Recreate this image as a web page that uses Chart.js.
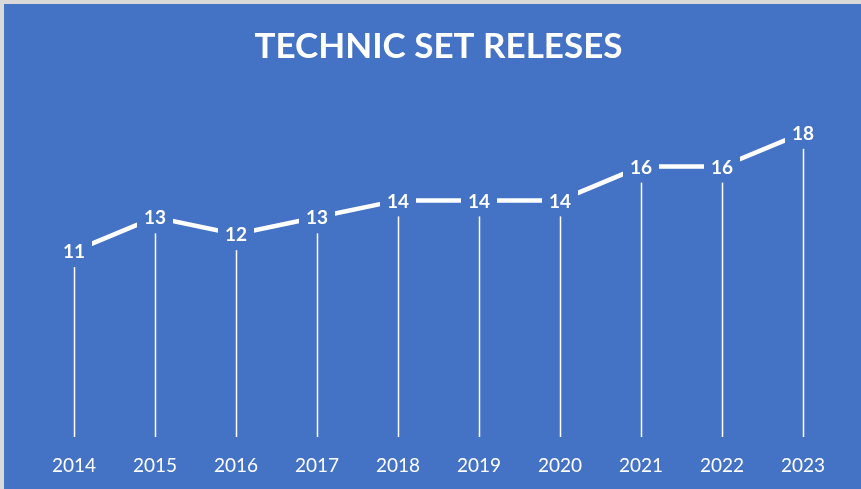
<!DOCTYPE html>
<html>
<head>
<meta charset="utf-8">
<script src="https://cdn.jsdelivr.net/npm/chart.js@4/dist/chart.umd.min.js"></script>
<style>
    html, body { margin: 0; padding: 0; background: #d9d9d9; }
    #wrap { position: absolute; left: 4px; top: 4px; width: 857px; height: 485px; background: #4472c4; }
</style>
</head>
<body>
<div id="wrap"><canvas id="chart" width="857" height="485"></canvas></div>
<script>
var years = ['2014', '2015', '2016', '2017', '2018', '2019', '2020', '2021', '2022', '2023'];
var releases = [11, 13, 12, 13, 14, 14, 14, 16, 16, 18];

var blue = '#4472c4';

// drop lines from each point down to the axis
var dropLines = {
    id: 'dropLines',
    beforeDatasetsDraw: function (chart) {
        var ctx = chart.ctx;
        var meta = chart.getDatasetMeta(0);
        var bottom = chart.scales.y.getPixelForValue(0);
        ctx.save();
        ctx.strokeStyle = '#ffffff';
        ctx.lineWidth = 1.5;
        meta.data.forEach(function (pt) {
            ctx.beginPath();
            ctx.moveTo(Math.round(pt.x) + 0.5, pt.y);
            ctx.lineTo(Math.round(pt.x) + 0.5, bottom);
            ctx.stroke();
        });
        ctx.restore();
    }
};

// value labels on a blue box, centred on the point
var valueLabels = {
    id: 'valueLabels',
    afterDatasetsDraw: function (chart) {
        var ctx = chart.ctx;
        var meta = chart.getDatasetMeta(0);
        ctx.save();
        ctx.font = 'bold 19px Lato';
        ctx.textAlign = 'center';
        ctx.textBaseline = 'middle';
        meta.data.forEach(function (pt, i) {
            var txt = String(releases[i]);
            var w = ctx.measureText(txt).width + 14;
            var h = 32;
            ctx.fillStyle = blue;
            ctx.fillRect(pt.x - w / 2, pt.y - h / 2, w, h);
            ctx.fillStyle = '#ffffff';
            ctx.fillText(txt, pt.x, pt.y + 1);
        });
        ctx.restore();
    }
};

new Chart(document.getElementById('chart'), {
    type: 'line',
    data: {
        labels: years,
        datasets: [{
            data: releases,
            borderColor: '#ffffff',
            borderWidth: 4.5,
            borderCapStyle: 'butt',
            pointRadius: 0,
            tension: 0
        }]
    },
    options: {
        responsive: false,
        animation: false,
        layout: {
            padding: { left: 29.5, right: 17.5, top: 0, bottom: 13 }
        },
        plugins: {
            legend: { display: false },
            tooltip: { enabled: false },
            title: {
                display: true,
                text: 'TECHNIC SET RELESES',
                color: '#ffffff',
                font: { family: 'Lato', size: 35, weight: 'bold' },
                padding: { top: 22, bottom: 31 }
            }
        },
        scales: {
            x: {
                offset: true,
                grid: { display: false, drawTicks: false },
                border: { display: false },
                ticks: {
                    color: '#ffffff',
                    padding: 17,
                    font: { family: 'Lato', size: 19 }
                },
                afterFit: function (scale) {
                    scale.height = 39;
                }
            },
            y: {
                display: false,
                min: 0,
                max: 20
            }
        }
    },
    plugins: [dropLines, valueLabels]
});
</script>
</body>
</html>
